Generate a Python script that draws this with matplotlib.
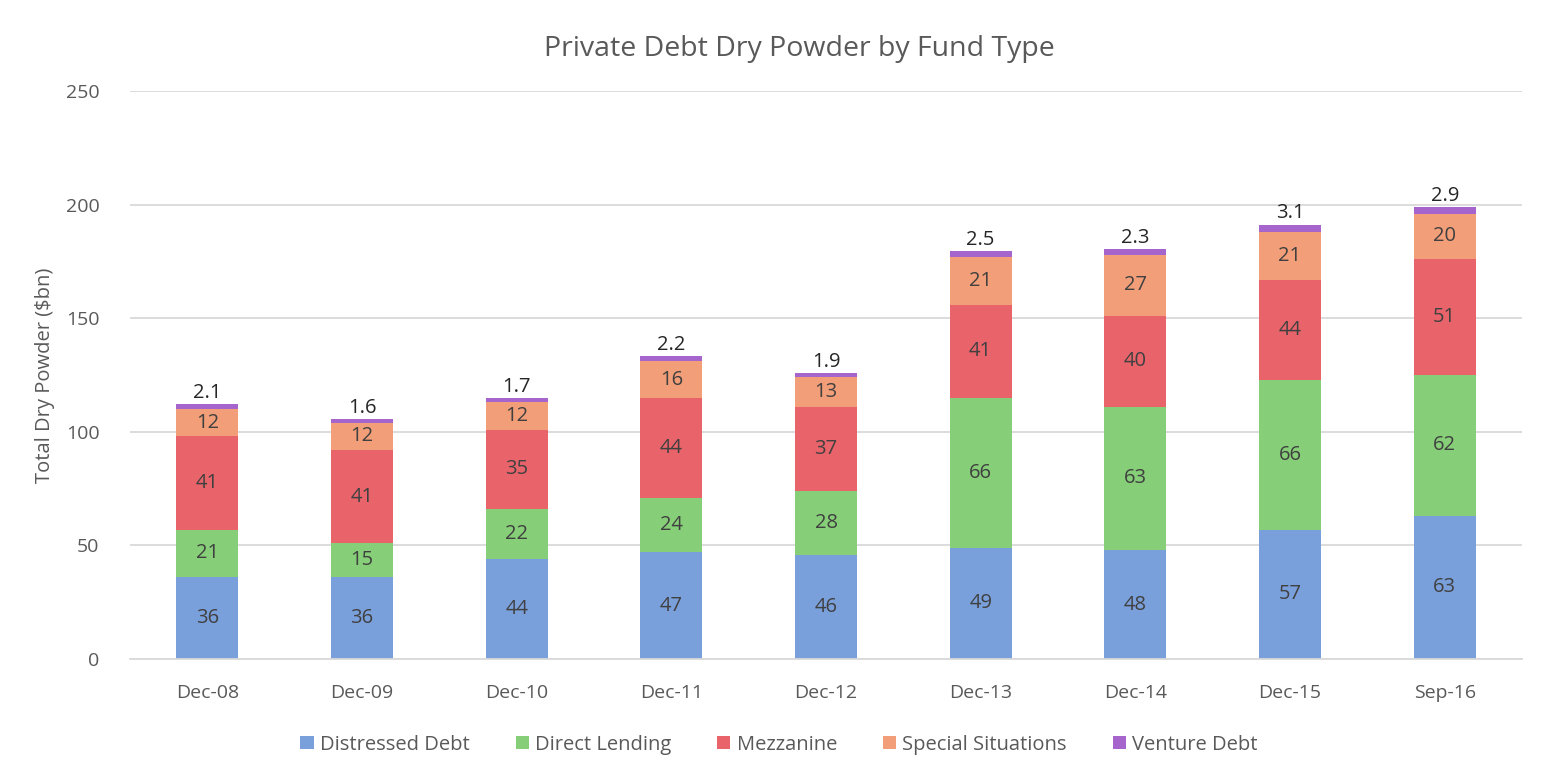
import matplotlib

matplotlib.use("Agg")
import matplotlib.pyplot as plt
import numpy as np

plt.rcParams["font.family"] = ["Open Sans", "DejaVu Sans"]

# Values ($bn).
PERIODS = ["Dec-08", "Dec-09", "Dec-10", "Dec-11", "Dec-12",
           "Dec-13", "Dec-14", "Dec-15", "Sep-16"]
DISTRESSED = [36, 36, 44, 47, 46, 49, 48, 57, 63]
DIRECT = [21, 15, 22, 24, 28, 66, 63, 66, 62]
MEZZANINE = [41, 41, 35, 44, 37, 41, 40, 44, 51]
SPECIAL = [12, 12, 12, 16, 13, 21, 27, 21, 20]
VENTURE = [2.1, 1.6, 1.7, 2.2, 1.9, 2.5, 2.3, 3.1, 2.9]

SERIES = [
    ("Distressed Debt", DISTRESSED, "#7aa0dc"),
    ("Direct Lending", DIRECT, "#86cf78"),
    ("Mezzanine", MEZZANINE, "#e8636a"),
    ("Special Situations", SPECIAL, "#f29e78"),
    ("Venture Debt", VENTURE, "#a565cc"),
]

fig = plt.figure(figsize=(15.49, 7.84), dpi=100)
ax = fig.add_axes([0.0839, 0.1594, 0.8987, 0.7245])

x = np.arange(len(PERIODS))
bottom = np.zeros(len(PERIODS))
handles = []
for name, vals, color in SERIES:
    vals = np.asarray(vals, dtype=float)
    bars = ax.bar(x, vals, width=0.4, bottom=bottom, color=color, label=name,
                  zorder=2)
    handles.append(bars)
    if name == "Venture Debt":
        for xi, b, v in zip(x, bottom, vals):
            ax.text(xi, b + v + 0.6, f"{v:.1f}", ha="center", va="bottom",
                    fontsize=14.5, color="#262626", zorder=3)
    else:
        for xi, b, v in zip(x, bottom, vals):
            ax.text(xi, b + v / 2, f"{v:.0f}", ha="center", va="center",
                    fontsize=14.5, color="#404040", zorder=3)
    bottom += vals

ax.set_xlim(-0.5, len(PERIODS) - 0.5)
ax.set_ylim(0, 250)
ax.set_yticks(range(0, 251, 50))
ax.set_xticks(x)
ax.set_xticklabels(PERIODS)
ax.tick_params(axis="both", length=0, labelsize=14, colors="#595959")
ax.tick_params(axis="x", pad=18)
ax.tick_params(axis="y", pad=22)
ax.grid(axis="y", color="#d9d9d9", linewidth=1.3, zorder=0)
for side in ("top", "right", "left"):
    ax.spines[side].set_visible(False)
ax.spines["bottom"].set_color("#d9d9d9")
ax.spines["bottom"].set_linewidth(1.3)

ax.set_ylabel("Total Dry Powder ($bn)", fontsize=14.5, color="#595959",
              labelpad=8)
fig.text(0.516, 0.938, "Private Debt Dry Powder by Fund Type", ha="center",
         va="center", fontsize=20.5, color="#595959")

fig.legend(handles=handles, labels=[s[0] for s in SERIES], loc="center",
           bbox_to_anchor=(0.503, 0.05), ncol=5, frameon=False, fontsize=14.5,
           handlelength=0.65, handleheight=0.65, handletextpad=0.3,
           columnspacing=2.3, labelcolor="#595959")

fig.savefig("out.png", dpi=100)
plt.close(fig)
